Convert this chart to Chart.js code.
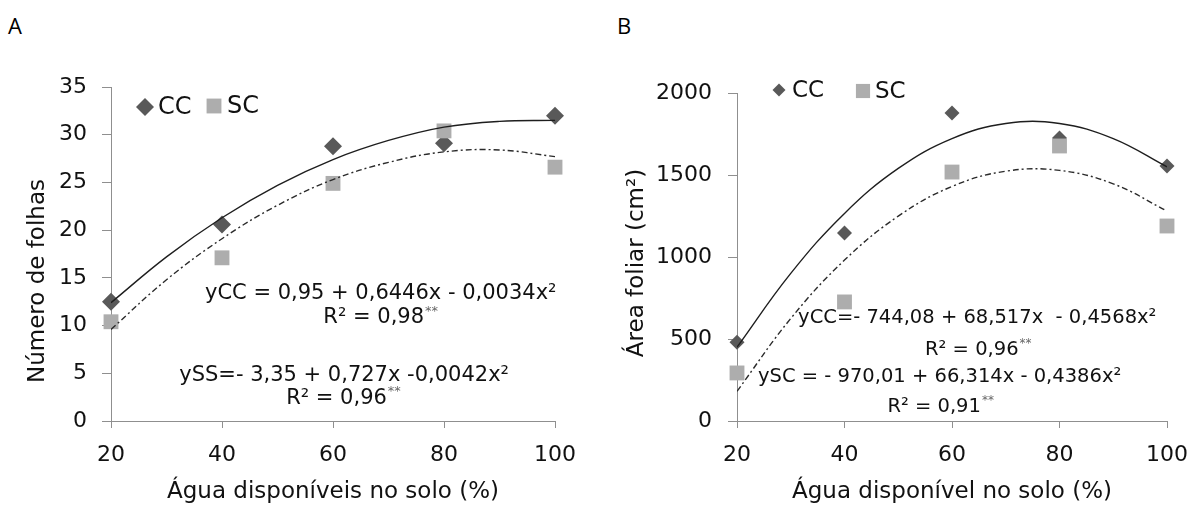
<!DOCTYPE html>
<html>
<head>
<meta charset="utf-8">
<script src="https://cdn.jsdelivr.net/npm/chart.js@4.4.1/dist/chart.umd.min.js"></script>
<style>
  body { margin: 0; background: #fff; width: 1203px; height: 506px; position: relative; overflow: hidden; }
  .panel { position: absolute; top: 0; }
  .tag { position: absolute; top: 10px; font: 22px "Open Sans", sans-serif; color: #000; }
</style>
</head>
<body>
<div class="tag" style="left:8px">A</div>
<div class="tag" style="left:617px">B</div>
<canvas id="chartA" class="panel" width="600" height="506" style="left:0"></canvas>
<canvas id="chartB" class="panel" width="603" height="506" style="left:600px"></canvas>
<script>
// --- data ---
const agua = [20, 40, 60, 80, 100];
const xTicks = [20, 40, 60, 80, 100];

// A: Número de folhas
const folhasCC = [12.5, 20.6, 28.8, 29.1, 32.0];
const folhasSC = [10.4, 17.1, 24.9, 30.4, 26.6];
const folhasTicks = [0, 5, 10, 15, 20, 25, 30, 35];

// B: Área foliar (cm²)
const areaCC = [480, 1146, 1878, 1725, 1555];
const areaSC = [293, 726, 1518, 1677, 1189];
const areaTicks = [0, 500, 1000, 1500, 2000];

// trend curves, read every 10 %
const trendX = [20, 30, 40, 50, 60, 70, 80, 90, 100];
const folhasTrendCC = [12.4, 17.2, 21.3, 24.7, 27.4, 29.4, 30.8, 31.4, 31.5];
const folhasTrendSC = [9.6, 14.8, 19.1, 22.6, 25.3, 27.1, 28.2, 28.4, 27.7];
const areaTrendCC = [450, 900, 1266, 1540, 1722, 1814, 1814, 1722, 1550];
const areaTrendSC = [181, 625, 981, 1249, 1430, 1523, 1528, 1446, 1280];

const FONT = '"DejaVu Sans", sans-serif';
const AXIS = '#8f8f8f';

function pts(xs, ys) {
    return xs.map((x, i) => ({ x: x, y: ys[i] }));
}

function marker(ctx, style, x, y, r) {
    ctx.beginPath();
    if (style === 'rectRot') {
        ctx.moveTo(x - r, y);
        ctx.lineTo(x, y - r);
        ctx.lineTo(x + r, y);
        ctx.lineTo(x, y + r);
    } else {
        const s = r * Math.SQRT1_2;
        ctx.rect(x - s, y - s, 2 * s, 2 * s);
    }
    ctx.closePath();
    ctx.fill();
}

// legend, y title and regression equations
const figText = {
    id: 'figText',
    afterDraw(chart, args, o) {
        const ctx = chart.ctx;
        const xs = chart.scales.x, ys = chart.scales.y;
        ctx.save();
        ctx.textBaseline = 'middle';

        // y title
        ctx.save();
        ctx.translate(o.yTitlePos[0], o.yTitlePos[1]);
        ctx.rotate(-Math.PI / 2);
        ctx.textAlign = 'center';
        ctx.fillStyle = '#111';
        ctx.font = '23px ' + FONT;
        ctx.fillText(o.yTitle, 0, 0);
        ctx.restore();

        // legend
        ctx.textAlign = 'left';
        o.legend.forEach((it) => {
            ctx.fillStyle = it.color;
            marker(ctx, it.style, it.x, it.y, it.r);
            ctx.fillStyle = '#111';
            ctx.font = o.legendSize + 'px ' + FONT;
            ctx.fillText(it.label, it.tx, it.y + 1);
        });

        // equations
        o.notes.forEach((n) => {
            const big = n.size + 'px ' + FONT;
            const small = Math.round(n.size * 0.62) + 'px ' + FONT;
            ctx.font = big;
            const w1 = ctx.measureText(n.text).width;
            ctx.font = small;
            const w2 = n.stars ? ctx.measureText(n.stars).width : 0;
            const cx = xs.getPixelForValue(n.x);
            const cy = ys.getPixelForValue(n.y);
            const left = cx - (w1 + w2) / 2;
            ctx.fillStyle = '#111';
            ctx.font = big;
            ctx.fillText(n.text, left, cy);
            if (n.stars) {
                ctx.fillStyle = '#666';
                ctx.font = small;
                ctx.fillText(n.stars, left + w1 + 1, cy - n.size * 0.3);
            }
        });
        ctx.restore();
    }
};

function buildChart(id, cfg) {
    const tickFont = { family: FONT, size: 22 };
    return new Chart(document.getElementById(id), {
        type: 'scatter',
        data: {
            datasets: [
                {
                    label: 'CC',
                    data: pts(agua, cfg.cc),
                    pointStyle: 'rectRot',
                    pointRadius: cfg.diamondR,
                    pointBackgroundColor: '#595959',
                    pointBorderWidth: 0,
                    clip: false,
                    order: 2,
                },
                {
                    label: 'SC',
                    data: pts(agua, cfg.sc),
                    pointStyle: 'rect',
                    pointRadius: cfg.squareR,
                    pointBackgroundColor: '#adadad',
                    pointBorderWidth: 0,
                    clip: false,
                    order: 1,
                },
                {
                    label: 'tendência CC',
                    data: pts(trendX, cfg.trendCC),
                    showLine: true,
                    pointRadius: 0,
                    borderColor: '#1e1e1e',
                    borderWidth: 1.4,
                    tension: 0.4,
                    order: 0,
                },
                {
                    label: 'tendência SC',
                    data: pts(trendX, cfg.trendSC),
                    showLine: true,
                    pointRadius: 0,
                    borderColor: '#2a2a2a',
                    borderWidth: 1.4,
                    borderDash: [6, 3, 2, 3],
                    tension: 0.4,
                    order: 0,
                },
            ],
        },
        options: {
            responsive: false,
            animation: false,
            events: [],
            layout: { padding: cfg.padding },
            plugins: {
                legend: { display: false },
                tooltip: { enabled: false },
                figText: cfg.text,
            },
            scales: {
                x: {
                    type: 'linear',
                    min: 20,
                    max: 100,
                    afterBuildTicks: (s) => { s.ticks = xTicks.map((v) => ({ value: v })); },
                    afterFit: (s) => { s.height = cfg.xHeight; },
                    grid: { drawOnChartArea: false, tickLength: 7, color: AXIS },
                    border: { color: AXIS },
                    ticks: { font: tickFont, color: '#111', padding: 14, maxRotation: 0, callback: (v) => String(v) },
                    title: {
                        display: true,
                        text: cfg.xTitle,
                        font: { family: FONT, size: 23 },
                        color: '#111',
                        padding: { top: 0, bottom: 0 },
                    },
                },
                y: {
                    type: 'linear',
                    min: 0,
                    max: cfg.yTicks[cfg.yTicks.length - 1],
                    afterBuildTicks: (s) => { s.ticks = cfg.yTicks.map((v) => ({ value: v })); },
                    afterFit: (s) => { s.width = cfg.yWidth; },
                    grid: { drawOnChartArea: false, tickLength: 9, color: AXIS },
                    border: { color: AXIS },
                    ticks: { font: tickFont, color: '#111', padding: cfg.yPad, callback: (v) => String(v) },
                },
            },
        },
        plugins: [figText],
    });
}

buildChart('chartA', {
    cc: folhasCC, sc: folhasSC, trendCC: folhasTrendCC, trendSC: folhasTrendSC,
    yTicks: folhasTicks, diamondR: 9, squareR: 10.5,
    padding: { top: 87, right: 45, left: 0, bottom: 0 },
    xHeight: 85, yWidth: 111, yPad: 15,
    xTitle: 'Água disponíveis no solo (%)',
    text: {
        yTitle: 'Número de folhas', yTitlePos: [38, 281],
        legendSize: 24,
        legend: [
            { style: 'rectRot', r: 9, color: '#595959', x: 145, y: 107, label: 'CC', tx: 158 },
            { style: 'rect', r: 10.5, color: '#adadad', x: 214, y: 106, label: 'SC', tx: 227 },
        ],
        notes: [
            { text: 'yCC = 0,95 + 0,6446x - 0,0034x²', x: 68.6, y: 13.4, size: 21 },
            { text: 'R² = 0,98', stars: '**', x: 68.5, y: 10.8, size: 21 },
            { text: 'ySS=- 3,35 + 0,727x -0,0042x²', x: 62.0, y: 4.8, size: 21 },
            { text: 'R² = 0,96', stars: '**', x: 61.8, y: 2.4, size: 21 },
        ],
    },
});

buildChart('chartB', {
    cc: areaCC, sc: areaSC, trendCC: areaTrendCC, trendSC: areaTrendSC,
    yTicks: areaTicks, diamondR: 7.5, squareR: 10.5,
    padding: { top: 93, right: 36, left: 0, bottom: 0 },
    xHeight: 85, yWidth: 137, yPad: 16,
    xTitle: 'Água disponível no solo (%)',
    text: {
        yTitle: 'Área foliar (cm²)', yTitlePos: [37, 263],
        legendSize: 23,
        legend: [
            { style: 'rectRot', r: 6.5, color: '#595959', x: 179, y: 90, label: 'CC', tx: 192 },
            { style: 'rect', r: 10, color: '#adadad', x: 263, y: 91, label: 'SC', tx: 275 },
        ],
        notes: [
            { text: 'yCC=- 744,08 + 68,517x  - 0,4568x²', x: 64.7, y: 628, size: 19.5 },
            { text: 'R² = 0,96', stars: '**', x: 64.8, y: 433, size: 19.5 },
            { text: 'ySC = - 970,01 + 66,314x - 0,4386x²', x: 57.7, y: 268, size: 19.5 },
            { text: 'R² = 0,91', stars: '**', x: 57.8, y: 85, size: 19.5 },
        ],
    },
});
</script>
</body>
</html>
